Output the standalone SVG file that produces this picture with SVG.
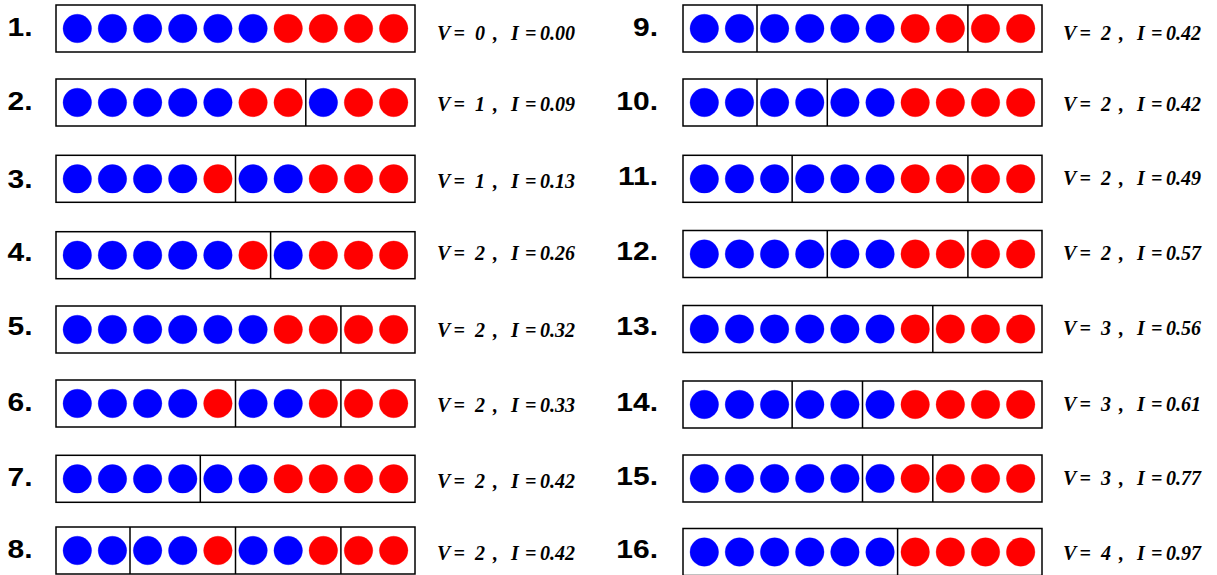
<svg xmlns="http://www.w3.org/2000/svg" width="1217" height="575" viewBox="0 0 1217 575">
<style>
.bg{fill:#fff}
.box{fill:#fff;stroke:#000;stroke-width:1.5}
.dv{stroke:#000;stroke-width:1.5}
.b{fill:#0000ff;stroke:#0000ff;stroke-opacity:0.3;stroke-width:1}
.r{fill:#ff0000;stroke:#ff0000;stroke-opacity:0.3;stroke-width:1}
.num{font-family:"Liberation Sans",Arial,sans-serif;font-weight:bold;font-size:25px;fill:#000}
.val{font-family:"Liberation Serif","Times New Roman",serif;font-style:italic;font-weight:bold;font-size:20px;fill:#000}
</style>
<rect class="bg" x="0" y="0" width="1217" height="575"/>

<!-- LEFT COLUMN -->
<g id="row1">
<text class="num" text-anchor="end" transform="translate(32.5,36) scale(1.2,1)">1.</text>
<rect class="box" x="56" y="5" width="359" height="47"/>
<g transform="translate(0,28.5)">
<circle class="b" cx="77.3" cy="0" r="14.3"/><circle class="b" cx="112.45" cy="0" r="14.3"/><circle class="b" cx="147.6" cy="0" r="14.3"/><circle class="b" cx="182.75" cy="0" r="14.3"/><circle class="b" cx="217.9" cy="0" r="14.3"/><circle class="b" cx="253.05" cy="0" r="14.3"/><circle class="r" cx="288.2" cy="0" r="14.3"/><circle class="r" cx="323.35" cy="0" r="14.3"/><circle class="r" cx="358.5" cy="0" r="14.3"/><circle class="r" cx="393.65" cy="0" r="14.3"/>
</g>
<text class="val" transform="translate(437,39.5)"><tspan x="0">V</tspan><tspan x="16.5">=</tspan><tspan x="38">0</tspan><tspan x="56">,</tspan><tspan x="74">I</tspan><tspan x="88">=</tspan><tspan x="103">0.00</tspan></text>
</g>

<g id="row2">
<text class="num" text-anchor="end" transform="translate(32.5,109.5) scale(1.2,1)">2.</text>
<rect class="box" x="56" y="79" width="359" height="47"/>
<line class="dv" x1="305.8" y1="79" x2="305.8" y2="126"/>
<g transform="translate(0,102.5)">
<circle class="b" cx="77.3" cy="0" r="14.3"/><circle class="b" cx="112.45" cy="0" r="14.3"/><circle class="b" cx="147.6" cy="0" r="14.3"/><circle class="b" cx="182.75" cy="0" r="14.3"/><circle class="b" cx="217.9" cy="0" r="14.3"/><circle class="r" cx="253.05" cy="0" r="14.3"/><circle class="r" cx="288.2" cy="0" r="14.3"/><circle class="b" cx="323.35" cy="0" r="14.3"/><circle class="r" cx="358.5" cy="0" r="14.3"/><circle class="r" cx="393.65" cy="0" r="14.3"/>
</g>
<text class="val" transform="translate(437,111)"><tspan x="0">V</tspan><tspan x="16.5">=</tspan><tspan x="38">1</tspan><tspan x="56">,</tspan><tspan x="74">I</tspan><tspan x="88">=</tspan><tspan x="103">0.09</tspan></text>
</g>

<g id="row3">
<text class="num" text-anchor="end" transform="translate(32.5,187.5) scale(1.2,1)">3.</text>
<rect class="box" x="56" y="155.3" width="359" height="47"/>
<line class="dv" x1="235.5" y1="155.3" x2="235.5" y2="202.3"/>
<g transform="translate(0,178.8)">
<circle class="b" cx="77.3" cy="0" r="14.3"/><circle class="b" cx="112.45" cy="0" r="14.3"/><circle class="b" cx="147.6" cy="0" r="14.3"/><circle class="b" cx="182.75" cy="0" r="14.3"/><circle class="r" cx="217.9" cy="0" r="14.3"/><circle class="b" cx="253.05" cy="0" r="14.3"/><circle class="b" cx="288.2" cy="0" r="14.3"/><circle class="r" cx="323.35" cy="0" r="14.3"/><circle class="r" cx="358.5" cy="0" r="14.3"/><circle class="r" cx="393.65" cy="0" r="14.3"/>
</g>
<text class="val" transform="translate(437,188)"><tspan x="0">V</tspan><tspan x="16.5">=</tspan><tspan x="38">1</tspan><tspan x="56">,</tspan><tspan x="74">I</tspan><tspan x="88">=</tspan><tspan x="103">0.13</tspan></text>
</g>

<g id="row4">
<text class="num" text-anchor="end" transform="translate(32.5,260.5) scale(1.2,1)">4.</text>
<rect class="box" x="56" y="231.7" width="359" height="47"/>
<line class="dv" x1="270.6" y1="231.7" x2="270.6" y2="278.7"/>
<g transform="translate(0,255.2)">
<circle class="b" cx="77.3" cy="0" r="14.3"/><circle class="b" cx="112.45" cy="0" r="14.3"/><circle class="b" cx="147.6" cy="0" r="14.3"/><circle class="b" cx="182.75" cy="0" r="14.3"/><circle class="b" cx="217.9" cy="0" r="14.3"/><circle class="r" cx="253.05" cy="0" r="14.3"/><circle class="b" cx="288.2" cy="0" r="14.3"/><circle class="r" cx="323.35" cy="0" r="14.3"/><circle class="r" cx="358.5" cy="0" r="14.3"/><circle class="r" cx="393.65" cy="0" r="14.3"/>
</g>
<text class="val" transform="translate(437,260)"><tspan x="0">V</tspan><tspan x="16.5">=</tspan><tspan x="38">2</tspan><tspan x="56">,</tspan><tspan x="74">I</tspan><tspan x="88">=</tspan><tspan x="103">0.26</tspan></text>
</g>

<g id="row5">
<text class="num" text-anchor="end" transform="translate(32.5,334.5) scale(1.2,1)">5.</text>
<rect class="box" x="56" y="306" width="359" height="47"/>
<line class="dv" x1="340.9" y1="306" x2="340.9" y2="353"/>
<g transform="translate(0,329.5)">
<circle class="b" cx="77.3" cy="0" r="14.3"/><circle class="b" cx="112.45" cy="0" r="14.3"/><circle class="b" cx="147.6" cy="0" r="14.3"/><circle class="b" cx="182.75" cy="0" r="14.3"/><circle class="b" cx="217.9" cy="0" r="14.3"/><circle class="b" cx="253.05" cy="0" r="14.3"/><circle class="r" cx="288.2" cy="0" r="14.3"/><circle class="r" cx="323.35" cy="0" r="14.3"/><circle class="r" cx="358.5" cy="0" r="14.3"/><circle class="r" cx="393.65" cy="0" r="14.3"/>
</g>
<text class="val" transform="translate(437,337)"><tspan x="0">V</tspan><tspan x="16.5">=</tspan><tspan x="38">2</tspan><tspan x="56">,</tspan><tspan x="74">I</tspan><tspan x="88">=</tspan><tspan x="103">0.32</tspan></text>
</g>

<g id="row6">
<text class="num" text-anchor="end" transform="translate(32.5,410.5) scale(1.2,1)">6.</text>
<rect class="box" x="56" y="380" width="359" height="47"/>
<line class="dv" x1="235.5" y1="380" x2="235.5" y2="427"/>
<line class="dv" x1="340.9" y1="380" x2="340.9" y2="427"/>
<g transform="translate(0,403.5)">
<circle class="b" cx="77.3" cy="0" r="14.3"/><circle class="b" cx="112.45" cy="0" r="14.3"/><circle class="b" cx="147.6" cy="0" r="14.3"/><circle class="b" cx="182.75" cy="0" r="14.3"/><circle class="r" cx="217.9" cy="0" r="14.3"/><circle class="b" cx="253.05" cy="0" r="14.3"/><circle class="b" cx="288.2" cy="0" r="14.3"/><circle class="r" cx="323.35" cy="0" r="14.3"/><circle class="r" cx="358.5" cy="0" r="14.3"/><circle class="r" cx="393.65" cy="0" r="14.3"/>
</g>
<text class="val" transform="translate(437,412)"><tspan x="0">V</tspan><tspan x="16.5">=</tspan><tspan x="38">2</tspan><tspan x="56">,</tspan><tspan x="74">I</tspan><tspan x="88">=</tspan><tspan x="103">0.33</tspan></text>
</g>

<g id="row7">
<text class="num" text-anchor="end" transform="translate(32.5,486) scale(1.2,1)">7.</text>
<rect class="box" x="56" y="455.3" width="359" height="47"/>
<line class="dv" x1="200.3" y1="455.3" x2="200.3" y2="502.3"/>
<g transform="translate(0,478.8)">
<circle class="b" cx="77.3" cy="0" r="14.3"/><circle class="b" cx="112.45" cy="0" r="14.3"/><circle class="b" cx="147.6" cy="0" r="14.3"/><circle class="b" cx="182.75" cy="0" r="14.3"/><circle class="b" cx="217.9" cy="0" r="14.3"/><circle class="b" cx="253.05" cy="0" r="14.3"/><circle class="r" cx="288.2" cy="0" r="14.3"/><circle class="r" cx="323.35" cy="0" r="14.3"/><circle class="r" cx="358.5" cy="0" r="14.3"/><circle class="r" cx="393.65" cy="0" r="14.3"/>
</g>
<text class="val" transform="translate(437,488)"><tspan x="0">V</tspan><tspan x="16.5">=</tspan><tspan x="38">2</tspan><tspan x="56">,</tspan><tspan x="74">I</tspan><tspan x="88">=</tspan><tspan x="103">0.42</tspan></text>
</g>

<g id="row8">
<text class="num" text-anchor="end" transform="translate(32.5,557.5) scale(1.2,1)">8.</text>
<rect class="box" x="56" y="527" width="359" height="47"/>
<line class="dv" x1="130" y1="527" x2="130" y2="574"/>
<line class="dv" x1="235.5" y1="527" x2="235.5" y2="574"/>
<line class="dv" x1="340.9" y1="527" x2="340.9" y2="574"/>
<g transform="translate(0,550.5)">
<circle class="b" cx="77.3" cy="0" r="14.3"/><circle class="b" cx="112.45" cy="0" r="14.3"/><circle class="b" cx="147.6" cy="0" r="14.3"/><circle class="b" cx="182.75" cy="0" r="14.3"/><circle class="r" cx="217.9" cy="0" r="14.3"/><circle class="b" cx="253.05" cy="0" r="14.3"/><circle class="b" cx="288.2" cy="0" r="14.3"/><circle class="r" cx="323.35" cy="0" r="14.3"/><circle class="r" cx="358.5" cy="0" r="14.3"/><circle class="r" cx="393.65" cy="0" r="14.3"/>
</g>
<text class="val" transform="translate(437,560)"><tspan x="0">V</tspan><tspan x="16.5">=</tspan><tspan x="38">2</tspan><tspan x="56">,</tspan><tspan x="74">I</tspan><tspan x="88">=</tspan><tspan x="103">0.42</tspan></text>
</g>

<!-- RIGHT COLUMN (shifted by 627) -->
<g id="row9" transform="translate(627,0)">
<text class="num" text-anchor="end" transform="translate(31,36) scale(1.2,1)">9.</text>
<rect class="box" x="56" y="5" width="359" height="47"/>
<line class="dv" x1="130" y1="5" x2="130" y2="52"/>
<line class="dv" x1="340.9" y1="5" x2="340.9" y2="52"/>
<g transform="translate(0,28.5)">
<circle class="b" cx="77.3" cy="0" r="14.3"/><circle class="b" cx="112.45" cy="0" r="14.3"/><circle class="b" cx="147.6" cy="0" r="14.3"/><circle class="b" cx="182.75" cy="0" r="14.3"/><circle class="b" cx="217.9" cy="0" r="14.3"/><circle class="b" cx="253.05" cy="0" r="14.3"/><circle class="r" cx="288.2" cy="0" r="14.3"/><circle class="r" cx="323.35" cy="0" r="14.3"/><circle class="r" cx="358.5" cy="0" r="14.3"/><circle class="r" cx="393.65" cy="0" r="14.3"/>
</g>
<text class="val" transform="translate(436,39.5)"><tspan x="0">V</tspan><tspan x="16.5">=</tspan><tspan x="38">2</tspan><tspan x="56">,</tspan><tspan x="74">I</tspan><tspan x="88">=</tspan><tspan x="103">0.42</tspan></text>
</g>

<g id="row10" transform="translate(627,0)">
<text class="num" text-anchor="end" transform="translate(31,109.5) scale(1.2,1)">10.</text>
<rect class="box" x="56" y="79" width="359" height="47"/>
<line class="dv" x1="130" y1="79" x2="130" y2="126"/>
<line class="dv" x1="200.3" y1="79" x2="200.3" y2="126"/>
<g transform="translate(0,102.5)">
<circle class="b" cx="77.3" cy="0" r="14.3"/><circle class="b" cx="112.45" cy="0" r="14.3"/><circle class="b" cx="147.6" cy="0" r="14.3"/><circle class="b" cx="182.75" cy="0" r="14.3"/><circle class="b" cx="217.9" cy="0" r="14.3"/><circle class="b" cx="253.05" cy="0" r="14.3"/><circle class="r" cx="288.2" cy="0" r="14.3"/><circle class="r" cx="323.35" cy="0" r="14.3"/><circle class="r" cx="358.5" cy="0" r="14.3"/><circle class="r" cx="393.65" cy="0" r="14.3"/>
</g>
<text class="val" transform="translate(436,110.5)"><tspan x="0">V</tspan><tspan x="16.5">=</tspan><tspan x="38">2</tspan><tspan x="56">,</tspan><tspan x="74">I</tspan><tspan x="88">=</tspan><tspan x="103">0.42</tspan></text>
</g>

<g id="row11" transform="translate(627,0)">
<text class="num" text-anchor="end" transform="translate(31,185) scale(1.2,1)">11.</text>
<rect class="box" x="56" y="155.3" width="359" height="47"/>
<line class="dv" x1="165.15" y1="155.3" x2="165.15" y2="202.3"/>
<line class="dv" x1="340.9" y1="155.3" x2="340.9" y2="202.3"/>
<g transform="translate(0,178.8)">
<circle class="b" cx="77.3" cy="0" r="14.3"/><circle class="b" cx="112.45" cy="0" r="14.3"/><circle class="b" cx="147.6" cy="0" r="14.3"/><circle class="b" cx="182.75" cy="0" r="14.3"/><circle class="b" cx="217.9" cy="0" r="14.3"/><circle class="b" cx="253.05" cy="0" r="14.3"/><circle class="r" cx="288.2" cy="0" r="14.3"/><circle class="r" cx="323.35" cy="0" r="14.3"/><circle class="r" cx="358.5" cy="0" r="14.3"/><circle class="r" cx="393.65" cy="0" r="14.3"/>
</g>
<text class="val" transform="translate(436,184.5)"><tspan x="0">V</tspan><tspan x="16.5">=</tspan><tspan x="38">2</tspan><tspan x="56">,</tspan><tspan x="74">I</tspan><tspan x="88">=</tspan><tspan x="103">0.49</tspan></text>
</g>

<g id="row12" transform="translate(627,0)">
<text class="num" text-anchor="end" transform="translate(31,259.5) scale(1.2,1)">12.</text>
<rect class="box" x="56" y="230.5" width="359" height="47"/>
<line class="dv" x1="200.3" y1="230.5" x2="200.3" y2="277.5"/>
<line class="dv" x1="340.9" y1="230.5" x2="340.9" y2="277.5"/>
<g transform="translate(0,254)">
<circle class="b" cx="77.3" cy="0" r="14.3"/><circle class="b" cx="112.45" cy="0" r="14.3"/><circle class="b" cx="147.6" cy="0" r="14.3"/><circle class="b" cx="182.75" cy="0" r="14.3"/><circle class="b" cx="217.9" cy="0" r="14.3"/><circle class="b" cx="253.05" cy="0" r="14.3"/><circle class="r" cx="288.2" cy="0" r="14.3"/><circle class="r" cx="323.35" cy="0" r="14.3"/><circle class="r" cx="358.5" cy="0" r="14.3"/><circle class="r" cx="393.65" cy="0" r="14.3"/>
</g>
<text class="val" transform="translate(436,259.5)"><tspan x="0">V</tspan><tspan x="16.5">=</tspan><tspan x="38">2</tspan><tspan x="56">,</tspan><tspan x="74">I</tspan><tspan x="88">=</tspan><tspan x="103">0.57</tspan></text>
</g>

<g id="row13" transform="translate(627,0)">
<text class="num" text-anchor="end" transform="translate(31,334.5) scale(1.2,1)">13.</text>
<rect class="box" x="56" y="305.5" width="359" height="47"/>
<line class="dv" x1="305.8" y1="305.5" x2="305.8" y2="352.5"/>
<g transform="translate(0,329)">
<circle class="b" cx="77.3" cy="0" r="14.3"/><circle class="b" cx="112.45" cy="0" r="14.3"/><circle class="b" cx="147.6" cy="0" r="14.3"/><circle class="b" cx="182.75" cy="0" r="14.3"/><circle class="b" cx="217.9" cy="0" r="14.3"/><circle class="b" cx="253.05" cy="0" r="14.3"/><circle class="r" cx="288.2" cy="0" r="14.3"/><circle class="r" cx="323.35" cy="0" r="14.3"/><circle class="r" cx="358.5" cy="0" r="14.3"/><circle class="r" cx="393.65" cy="0" r="14.3"/>
</g>
<text class="val" transform="translate(436,335)"><tspan x="0">V</tspan><tspan x="16.5">=</tspan><tspan x="38">3</tspan><tspan x="56">,</tspan><tspan x="74">I</tspan><tspan x="88">=</tspan><tspan x="103">0.56</tspan></text>
</g>

<g id="row14" transform="translate(627,0)">
<text class="num" text-anchor="end" transform="translate(31,410.5) scale(1.2,1)">14.</text>
<rect class="box" x="56" y="381" width="359" height="47"/>
<line class="dv" x1="165.15" y1="381" x2="165.15" y2="428"/>
<line class="dv" x1="235.5" y1="381" x2="235.5" y2="428"/>
<g transform="translate(0,404.5)">
<circle class="b" cx="77.3" cy="0" r="14.3"/><circle class="b" cx="112.45" cy="0" r="14.3"/><circle class="b" cx="147.6" cy="0" r="14.3"/><circle class="b" cx="182.75" cy="0" r="14.3"/><circle class="b" cx="217.9" cy="0" r="14.3"/><circle class="b" cx="253.05" cy="0" r="14.3"/><circle class="r" cx="288.2" cy="0" r="14.3"/><circle class="r" cx="323.35" cy="0" r="14.3"/><circle class="r" cx="358.5" cy="0" r="14.3"/><circle class="r" cx="393.65" cy="0" r="14.3"/>
</g>
<text class="val" transform="translate(436,411)"><tspan x="0">V</tspan><tspan x="16.5">=</tspan><tspan x="38">3</tspan><tspan x="56">,</tspan><tspan x="74">I</tspan><tspan x="88">=</tspan><tspan x="103">0.61</tspan></text>
</g>

<g id="row15" transform="translate(627,0)">
<text class="num" text-anchor="end" transform="translate(31,485) scale(1.2,1)">15.</text>
<rect class="box" x="56" y="455" width="359" height="47"/>
<line class="dv" x1="235.5" y1="455" x2="235.5" y2="502"/>
<line class="dv" x1="305.8" y1="455" x2="305.8" y2="502"/>
<g transform="translate(0,478.5)">
<circle class="b" cx="77.3" cy="0" r="14.3"/><circle class="b" cx="112.45" cy="0" r="14.3"/><circle class="b" cx="147.6" cy="0" r="14.3"/><circle class="b" cx="182.75" cy="0" r="14.3"/><circle class="b" cx="217.9" cy="0" r="14.3"/><circle class="b" cx="253.05" cy="0" r="14.3"/><circle class="r" cx="288.2" cy="0" r="14.3"/><circle class="r" cx="323.35" cy="0" r="14.3"/><circle class="r" cx="358.5" cy="0" r="14.3"/><circle class="r" cx="393.65" cy="0" r="14.3"/>
</g>
<text class="val" transform="translate(436,485)"><tspan x="0">V</tspan><tspan x="16.5">=</tspan><tspan x="38">3</tspan><tspan x="56">,</tspan><tspan x="74">I</tspan><tspan x="88">=</tspan><tspan x="103">0.77</tspan></text>
</g>

<g id="row16" transform="translate(627,0)">
<text class="num" text-anchor="end" transform="translate(31,557.5) scale(1.2,1)">16.</text>
<rect class="box" x="56" y="528.5" width="359" height="47"/>
<line class="dv" x1="270.6" y1="528.5" x2="270.6" y2="575.5"/>
<g transform="translate(0,552)">
<circle class="b" cx="77.3" cy="0" r="14.3"/><circle class="b" cx="112.45" cy="0" r="14.3"/><circle class="b" cx="147.6" cy="0" r="14.3"/><circle class="b" cx="182.75" cy="0" r="14.3"/><circle class="b" cx="217.9" cy="0" r="14.3"/><circle class="b" cx="253.05" cy="0" r="14.3"/><circle class="r" cx="288.2" cy="0" r="14.3"/><circle class="r" cx="323.35" cy="0" r="14.3"/><circle class="r" cx="358.5" cy="0" r="14.3"/><circle class="r" cx="393.65" cy="0" r="14.3"/>
</g>
<text class="val" transform="translate(436,559.5)"><tspan x="0">V</tspan><tspan x="16.5">=</tspan><tspan x="38">4</tspan><tspan x="56">,</tspan><tspan x="74">I</tspan><tspan x="88">=</tspan><tspan x="103">0.97</tspan></text>
</g>
</svg>
